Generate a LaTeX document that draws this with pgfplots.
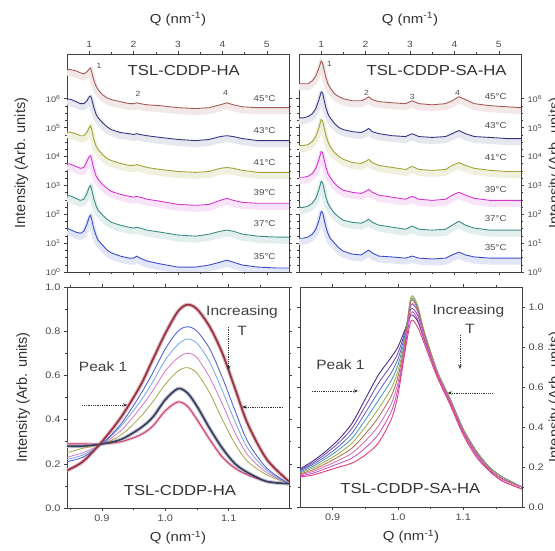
\documentclass[border=0pt]{standalone}
\usepackage{pgfplots}
\pgfplotsset{compat=1.18}
\usepackage{pgfplotstable}
\usepackage{fontspec}
\setmainfont{Liberation Sans}[FakeStretch=1.15]
\newfontfamily\ylabfont{Liberation Sans}
\usetikzlibrary{arrows.meta}

\definecolor{tA}{HTML}{3B4CC8}
\definecolor{tB}{HTML}{3A8C84}
\definecolor{tC}{HTML}{D335D0}
\definecolor{tD}{HTML}{A2A236}
\definecolor{tE}{HTML}{35357F}
\definecolor{tF}{HTML}{A35A55}

\definecolor{bA}{HTML}{C8386A}
\definecolor{bB}{HTML}{343C5E}
\definecolor{bC}{HTML}{A8A446}
\definecolor{bD}{HTML}{D479C4}
\definecolor{bE}{HTML}{74A6E2}
\definecolor{bF}{HTML}{5564D2}
\definecolor{bG}{HTML}{9A3445}

\definecolor{rA}{HTML}{4B2C7F}
\definecolor{rB}{HTML}{6B45A8}
\definecolor{rC}{HTML}{5C5CD2}
\definecolor{rD}{HTML}{3C9AB2}
\definecolor{rE}{HTML}{A3A346}
\definecolor{rF}{HTML}{A86C48}
\definecolor{rG}{HTML}{D067B8}
\definecolor{rH}{HTML}{C646C9}
\definecolor{rI}{HTML}{E23D74}

% log10 intensity, TSL-CDDP-HA
\pgfplotstableread{
Q a35 a37 a39 a41 a43 a45
0.5 1.52 2.66 3.76 4.86 6.00 7.03
0.6 1.45 2.62 3.72 4.83 5.97 7.00
0.7 1.38 2.55 3.66 4.79 5.90 6.97
0.8 1.34 2.48 3.59 4.72 5.83 6.90
0.88 1.41 2.52 3.62 4.72 5.83 6.86
0.95 1.66 2.72 3.83 4.83 5.93 6.93
1.0 1.90 2.93 4.00 5.00 6.07 7.03
1.03 1.97 3.00 4.03 5.07 6.10 7.07
1.06 1.79 2.83 3.86 4.90 5.97 6.90
1.1 1.52 2.55 3.59 4.62 5.72 6.66
1.15 1.28 2.31 3.34 4.38 5.48 6.45
1.2 1.10 2.14 3.21 4.24 5.34 6.31
1.3 0.93 1.97 3.03 4.07 5.17 6.14
1.4 0.76 1.83 2.90 3.93 5.03 6.03
1.5 0.66 1.72 2.79 3.86 4.93 5.97
1.7 0.55 1.62 2.69 3.76 4.83 5.90
1.9 0.48 1.55 2.62 3.69 4.79 5.83
2.0 0.48 1.52 2.59 3.69 4.76 5.83
2.07 0.55 1.55 2.62 3.72 4.79 5.86
2.15 0.48 1.52 2.59 3.69 4.76 5.83
2.3 0.38 1.45 2.52 3.62 4.72 5.79
2.6 0.28 1.38 2.45 3.55 4.66 5.76
3.0 0.17 1.28 2.34 3.48 4.59 5.69
3.4 0.17 1.24 2.31 3.45 4.55 5.66
3.7 0.24 1.31 2.34 3.48 4.59 5.69
3.95 0.34 1.41 2.48 3.59 4.69 5.79
4.1 0.41 1.45 2.55 3.62 4.72 5.86
4.25 0.34 1.41 2.48 3.59 4.69 5.79
4.45 0.24 1.31 2.41 3.52 4.62 5.72
4.8 0.17 1.24 2.38 3.45 4.55 5.69
5.2 0.14 1.21 2.38 3.45 4.55 5.69
5.5 0.14 1.21 2.38 3.45 4.55 5.69
}\TL

% log10 intensity, TSL-CDDP-SA-HA
\pgfplotstableread{
Q a35 a37 a39 a41 a43 a45
0.5 1.17 2.24 3.28 4.38 5.34 6.52
0.6 1.17 2.24 3.28 4.38 5.34 6.52
0.7 1.21 2.28 3.31 4.41 5.38 6.52
0.8 1.31 2.38 3.41 4.52 5.48 6.62
0.88 1.48 2.55 3.59 4.69 5.66 6.79
0.95 1.79 2.86 3.90 5.00 5.97 7.07
1.0 2.10 3.14 4.17 5.28 6.24 7.31
1.03 2.07 3.10 4.14 5.24 6.21 7.24
1.06 1.86 2.90 3.93 5.03 6.00 7.03
1.1 1.59 2.62 3.66 4.76 5.72 6.76
1.15 1.34 2.38 3.41 4.52 5.48 6.52
1.2 1.17 2.24 3.28 4.34 5.34 6.38
1.3 1.00 2.03 3.07 4.14 5.14 6.17
1.4 0.83 1.90 2.93 4.00 5.00 6.07
1.5 0.72 1.79 2.83 3.90 4.93 6.00
1.7 0.62 1.72 2.76 3.79 4.86 5.93
1.9 0.59 1.69 2.72 3.76 4.83 5.93
2.0 0.69 1.76 2.79 3.83 4.90 6.00
2.07 0.76 1.83 2.86 3.90 4.97 6.07
2.15 0.66 1.72 2.76 3.79 4.86 5.97
2.3 0.55 1.62 2.66 3.69 4.79 5.90
2.6 0.52 1.55 2.59 3.62 4.72 5.86
2.9 0.48 1.48 2.52 3.55 4.69 5.83
3.05 0.55 1.59 2.62 3.66 4.79 5.93
3.2 0.48 1.48 2.52 3.55 4.69 5.83
3.5 0.45 1.45 2.48 3.52 4.66 5.79
3.8 0.48 1.48 2.52 3.55 4.69 5.83
3.95 0.59 1.62 2.66 3.69 4.79 5.93
4.1 0.69 1.76 2.76 3.79 4.90 6.07
4.25 0.59 1.62 2.66 3.69 4.79 5.97
4.45 0.52 1.52 2.55 3.59 4.69 5.83
4.8 0.48 1.45 2.48 3.52 4.66 5.76
5.2 0.48 1.45 2.48 3.48 4.62 5.72
5.5 0.48 1.45 2.48 3.48 4.62 5.69
}\TR

% peak 1, TSL-CDDP-HA
\pgfplotstableread{
Q c1 c2 c3 c4 c5 c6 c7
0.845 0.29 0.28 0.25 0.23 0.22 0.21 0.17
0.87 0.29 0.28 0.27 0.25 0.24 0.23 0.21
0.9 0.29 0.29 0.29 0.29 0.29 0.29 0.30
0.93 0.30 0.31 0.33 0.35 0.37 0.38 0.41
0.96 0.33 0.36 0.41 0.45 0.48 0.51 0.55
0.98 0.37 0.41 0.48 0.53 0.57 0.61 0.67
1.0 0.44 0.49 0.56 0.62 0.67 0.72 0.79
1.02 0.48 0.54 0.62 0.68 0.74 0.80 0.89
1.035 0.46 0.52 0.635 0.70 0.765 0.82 0.92
1.05 0.40 0.46 0.61 0.68 0.745 0.80 0.90
1.07 0.31 0.36 0.52 0.59 0.66 0.72 0.82
1.09 0.23 0.27 0.40 0.47 0.53 0.59 0.70
1.11 0.18 0.20 0.29 0.34 0.39 0.44 0.54
1.13 0.15 0.16 0.21 0.24 0.27 0.30 0.38
1.16 0.12 0.12 0.15 0.16 0.17 0.18 0.22
1.195 0.11 0.11 0.11 0.11 0.11 0.11 0.12
}\BL

% peak 1, TSL-CDDP-SA-HA
\pgfplotstableread{
Q k0 k1 k2 k3 k4 k5 k6 k7 k8
0.85 0.19 0.185 0.18 0.175 0.17 0.165 0.16 0.155 0.15
0.87 0.23 0.221 0.213 0.204 0.195 0.186 0.178 0.169 0.16
0.89 0.28 0.268 0.255 0.243 0.23 0.218 0.205 0.193 0.18
0.91 0.34 0.323 0.305 0.288 0.27 0.253 0.235 0.218 0.20
0.93 0.42 0.395 0.37 0.345 0.32 0.295 0.27 0.245 0.22
0.95 0.54 0.505 0.47 0.435 0.40 0.365 0.33 0.295 0.26
0.97 0.66 0.618 0.575 0.533 0.49 0.448 0.405 0.363 0.32
0.99 0.75 0.711 0.673 0.634 0.595 0.556 0.518 0.479 0.44
1.0 0.80 0.77 0.74 0.71 0.68 0.65 0.62 0.59 0.56
1.01 0.88 0.865 0.85 0.835 0.82 0.805 0.79 0.775 0.76
1.02 0.96 0.99 1.01 1.04 1.05 1.03 1.01 0.97 0.93
1.03 0.93 0.96 0.98 1.00 1.01 0.99 0.98 0.94 0.90
1.04 0.84 0.86 0.87 0.88 0.88 0.87 0.86 0.84 0.82
1.06 0.67 0.67 0.68 0.68 0.68 0.67 0.67 0.66 0.65
1.08 0.53 0.53 0.54 0.54 0.54 0.53 0.53 0.52 0.51
1.1 0.38 0.38 0.39 0.39 0.39 0.38 0.38 0.37 0.36
1.12 0.27 0.27 0.28 0.28 0.28 0.27 0.27 0.26 0.25
1.14 0.19 0.19 0.20 0.20 0.20 0.19 0.19 0.18 0.18
1.16 0.14 0.14 0.15 0.15 0.15 0.14 0.14 0.13 0.13
1.19 0.10 0.10 0.10 0.10 0.10 0.10 0.10 0.09 0.09
}\BR

\tikzset{
  band/.style={line width=6pt, transform canvas={yshift=-3.5pt}},
  tline/.style={line width=0.9pt, line join=round},
  tlab/.style={font=\fontsize{8.5}{9}\selectfont, text=black!70},
  plab/.style={font=\fontsize{7.5}{8}\selectfont, text=black!70},
  ptitle/.style={font=\fontsize{14.5}{16}\selectfont, text=black!80},
  ann/.style={font=\fontsize{13.5}{15}\selectfont, text=black!75},
  darr/.style={black!80, line width=0.7pt, dash pattern=on 1pt off 0.8pt, -{Stealth[length=4.5pt,width=3.5pt]}},
}

\pgfplotsset{
  panel/.style={
    scale only axis, width=222pt,
    axis line style={black!75, line width=0.6pt},
    every tick/.style={black!75, line width=0.5pt},
    tick align=outside, major tick length=3pt, minor tick length=1.8pt,
    /pgf/number format/assume math mode=true,
    tick label style={font=\fontsize{9.5}{10}\selectfont, text=black!70},
    xlabel style={font=\fontsize{13}{15}\selectfont, text=black!80},
    ylabel style={font=\ylabfont\fontsize{14.5}{16}\selectfont, text=black!80},
  },
  toppanel/.style={
    panel, height=218pt,
    xmin=0.5, xmax=5.5, ymin=0, ymax=7.55,
    xtick={1,2,3,4,5}, minor x tick num=1,
    xticklabel pos=upper,
    xlabel={Q (nm\textsuperscript{-1})},
    xlabel style={at={(axis description cs:0.5,1.16)}, anchor=center},
    xticklabel style={font=\fontsize{9}{10}\selectfont},
    ytick={0,1,2,3,4,5,6}, minor y tick num=3,
    yticklabels={10\textsuperscript{0},10\textsuperscript{1},10\textsuperscript{2},10\textsuperscript{3},10\textsuperscript{4},10\textsuperscript{5},10\textsuperscript{6}},
    yticklabel style={font=\fontsize{8}{9}\selectfont},
  },
}

\begin{document}
\begin{tikzpicture}
\useasboundingbox (0pt,0pt) rectangle (555pt,551pt);
\fill[white] (0pt,0pt) rectangle (555pt,551pt);

% ---------------- top left ----------------
\begin{axis}[toppanel, at={(67pt,279pt)}, anchor=south west,
  ylabel={Intensity (Arb. units)},
  ylabel style={at={(axis description cs:-0.205,0.5)}, anchor=center}]
\addplot[tA!14, band, forget plot] table[x=Q,y=a35]{\TL};
\addplot[tB!14, band, forget plot] table[x=Q,y=a37]{\TL};
\addplot[tC!14, band, forget plot] table[x=Q,y=a39]{\TL};
\addplot[tD!16, band, forget plot] table[x=Q,y=a41]{\TL};
\addplot[tE!12, band, forget plot] table[x=Q,y=a43]{\TL};
\addplot[tF!14, band, forget plot] table[x=Q,y=a45]{\TL};
\addplot[tA, tline] table[x=Q,y=a35]{\TL};
\addplot[tB, tline] table[x=Q,y=a37]{\TL};
\addplot[tC, tline] table[x=Q,y=a39]{\TL};
\addplot[tD, tline] table[x=Q,y=a41]{\TL};
\addplot[tE, tline] table[x=Q,y=a43]{\TL};
\addplot[tF, tline] table[x=Q,y=a45]{\TL};
\node[ptitle] at (axis cs:3.13,6.97) {TSL-CDDP-HA};
\node[plab] at (axis cs:1.22,7.14) {1};
\node[plab] at (axis cs:2.1,6.17) {2};
\node[plab] at (axis cs:4.07,6.2) {4};
\node[tlab] at (axis cs:4.95,6.0) {45°C};
\node[tlab] at (axis cs:4.95,4.9) {43°C};
\node[tlab] at (axis cs:4.95,3.79) {41°C};
\node[tlab] at (axis cs:4.95,2.76) {39°C};
\node[tlab] at (axis cs:4.95,1.69) {37°C};
\node[tlab] at (axis cs:4.95,0.52) {35°C};
\end{axis}

% ---------------- top right ----------------
\begin{axis}[toppanel, at={(299pt,279pt)}, anchor=south west,
  yticklabel pos=right,
  ylabel={Intensity (Arb. units)},
  ylabel style={at={(axis description cs:1.155,0.5)}, anchor=center}]
\addplot[tA!14, band, forget plot] table[x=Q,y=a35]{\TR};
\addplot[tB!14, band, forget plot] table[x=Q,y=a37]{\TR};
\addplot[tC!14, band, forget plot] table[x=Q,y=a39]{\TR};
\addplot[tD!16, band, forget plot] table[x=Q,y=a41]{\TR};
\addplot[tE!12, band, forget plot] table[x=Q,y=a43]{\TR};
\addplot[tF!14, band, forget plot] table[x=Q,y=a45]{\TR};
\addplot[tA, tline] table[x=Q,y=a35]{\TR};
\addplot[tB, tline] table[x=Q,y=a37]{\TR};
\addplot[tC, tline] table[x=Q,y=a39]{\TR};
\addplot[tD, tline] table[x=Q,y=a41]{\TR};
\addplot[tE, tline] table[x=Q,y=a43]{\TR};
\addplot[tF, tline] table[x=Q,y=a45]{\TR};
\node[ptitle] at (axis cs:3.6,6.97) {TSL-CDDP-SA-HA};
\node[plab] at (axis cs:1.18,7.2) {1};
\node[plab] at (axis cs:2.02,6.2) {2};
\node[plab] at (axis cs:3.05,6.07) {3};
\node[plab] at (axis cs:4.07,6.2) {4};
\node[tlab] at (axis cs:4.93,6.07) {45°C};
\node[tlab] at (axis cs:4.93,5.07) {43°C};
\node[tlab] at (axis cs:4.93,3.97) {41°C};
\node[tlab] at (axis cs:4.93,2.86) {39°C};
\node[tlab] at (axis cs:4.93,1.86) {37°C};
\node[tlab] at (axis cs:4.93,0.86) {35°C};
\end{axis}

% ---------------- bottom left ----------------
\begin{axis}[panel, at={(67pt,43pt)}, anchor=south west, height=221pt,
  xmin=0.845, xmax=1.195, ymin=0, ymax=1.0,
  xtick={0.9,1.0,1.1}, xticklabels={0.9,1.0,1.1},
  minor xtick={0.85,0.95,1.05,1.15},
  ytick={0,0.2,0.4,0.6,0.8,1.0}, yticklabels={0.0,0.2,0.4,0.6,0.8,1.0},
  minor ytick={0.1,0.3,0.5,0.7,0.9},
  xlabel={Q (nm\textsuperscript{-1})},
  xlabel style={at={(axis description cs:0.5,-0.135)}, anchor=center},
  ylabel={Intensity (Arb. units)},
  ylabel style={at={(axis description cs:-0.198,0.5)}, anchor=center}]
\addplot[bA!30, line width=3pt, smooth, tension=0.5, forget plot] table[x=Q,y=c1]{\BL};
\addplot[bB!30, line width=3.8pt, smooth, tension=0.5, forget plot] table[x=Q,y=c2]{\BL};
\addplot[bG!30, line width=4pt, smooth, tension=0.5, forget plot] table[x=Q,y=c7]{\BL};
\addplot[bC, line width=0.8pt, smooth, tension=0.5] table[x=Q,y=c3]{\BL};
\addplot[bD, line width=0.8pt, smooth, tension=0.5] table[x=Q,y=c4]{\BL};
\addplot[bE, line width=0.8pt, smooth, tension=0.5] table[x=Q,y=c5]{\BL};
\addplot[bF, line width=0.9pt, smooth, tension=0.5] table[x=Q,y=c6]{\BL};
\addplot[bA, line width=0.9pt, smooth, tension=0.5] table[x=Q,y=c1]{\BL};
\addplot[bB, line width=1.6pt, smooth, tension=0.5] table[x=Q,y=c2]{\BL};
\addplot[bG, line width=1.8pt, smooth, tension=0.5] table[x=Q,y=c7]{\BL};
\node[ann] at (axis cs:0.902,0.638) {Peak 1};
\draw[darr] (axis cs:0.869,0.466) -- (axis cs:0.940,0.466);
\node[ann] at (axis cs:1.121,0.887) {Increasing};
\node[ann] at (axis cs:1.121,0.80) {T};
\draw[darr] (axis cs:1.100,0.82) -- (axis cs:1.100,0.624);
\draw[darr] (axis cs:1.186,0.457) -- (axis cs:1.121,0.457);
\node[ptitle] at (axis cs:1.023,0.081) {TSL-CDDP-HA};
\end{axis}

% ---------------- bottom right ----------------
\begin{axis}[panel, at={(300pt,44pt)}, anchor=south west, height=220pt,
  xmin=0.85, xmax=1.19, ymin=0, ymax=1.1,
  xtick={0.9,1.0,1.1}, xticklabels={0.9,1.0,1.1},
  minor xtick={0.95,1.05,1.15},
  ytick={0,0.2,0.4,0.6,0.8,1.0}, yticklabels={0.0,0.2,0.4,0.6,0.8,1.0},
  minor ytick={0.1,0.3,0.5,0.7,0.9},
  yticklabel pos=right,
  xlabel={Q (nm\textsuperscript{-1})},
  xlabel style={at={(axis description cs:0.5,-0.136)}, anchor=center},
  ylabel={Intensity (Arb. units)},
  ylabel style={at={(axis description cs:1.15,0.5)}, anchor=center}]
\addplot[rA, line width=0.9pt, smooth, tension=0.45] table[x=Q,y=k0]{\BR};
\addplot[rB, line width=0.8pt, smooth, tension=0.45] table[x=Q,y=k1]{\BR};
\addplot[rC, line width=0.8pt, smooth, tension=0.45] table[x=Q,y=k2]{\BR};
\addplot[rD, line width=0.8pt, smooth, tension=0.45] table[x=Q,y=k3]{\BR};
\addplot[rE, line width=0.8pt, smooth, tension=0.45] table[x=Q,y=k4]{\BR};
\addplot[rF, line width=0.8pt, smooth, tension=0.45] table[x=Q,y=k5]{\BR};
\addplot[rG, line width=0.8pt, smooth, tension=0.45] table[x=Q,y=k6]{\BR};
\addplot[rH, line width=0.8pt, smooth, tension=0.45] table[x=Q,y=k7]{\BR};
\addplot[rI, line width=0.9pt, smooth, tension=0.45] table[x=Q,y=k8]{\BR};
\node[ann] at (axis cs:0.912,0.71) {Peak 1};
\draw[darr] (axis cs:0.868,0.58) -- (axis cs:0.939,0.58);
\node[ann] at (axis cs:1.108,0.98) {Increasing};
\node[ann] at (axis cs:1.11,0.89) {T};
\draw[darr] (axis cs:1.095,0.86) -- (axis cs:1.095,0.69);
\draw[darr] (axis cs:1.145,0.57) -- (axis cs:1.076,0.57);
\node[ptitle] at (axis cs:1.019,0.09) {TSL-CDDP-SA-HA};
\end{axis}
\end{tikzpicture}
\end{document}
